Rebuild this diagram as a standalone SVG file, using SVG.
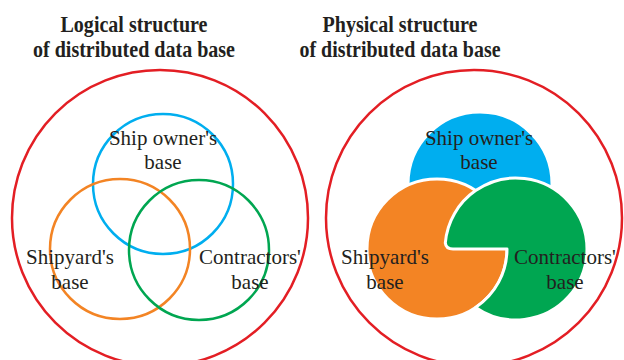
<svg xmlns="http://www.w3.org/2000/svg" width="624" height="360" viewBox="0 0 624 360">
<style>
.title{font-family:"Liberation Serif","Times New Roman",serif;font-weight:bold;font-size:24px;fill:#231f20;text-anchor:middle}
.lbl{font-family:"Liberation Serif","Times New Roman",serif;font-size:21px;fill:#231f20;text-anchor:middle}
.ring{fill:none;stroke-width:2.5}
.disc{stroke:#ffffff;stroke-width:3;stroke-linejoin:round}
</style>
<rect width="624" height="360" fill="#ffffff"/>
<g id="titles">
<text class="title" x="134" y="32" textLength="147" lengthAdjust="spacingAndGlyphs">Logical structure</text>
<text class="title" x="134" y="57" textLength="202" lengthAdjust="spacingAndGlyphs">of distributed data base</text>
<text class="title" x="400" y="32" textLength="155" lengthAdjust="spacingAndGlyphs">Physical structure</text>
<text class="title" x="400" y="57" textLength="201" lengthAdjust="spacingAndGlyphs">of distributed data base</text>
</g>
<g id="logical">
<circle id="logical-outer" class="ring" cx="160" cy="218" r="148" stroke="#e31e24"/>
<g id="logical-shipowner"><circle class="ring" cx="163" cy="184" r="70" stroke="#00aeef"/></g>
<g id="logical-shipyard"><circle class="ring" cx="120" cy="249" r="70" stroke="#f38424"/></g>
<g id="logical-contractors"><circle class="ring" cx="199" cy="250" r="70" stroke="#00a651"/></g>
<text class="lbl" x="163" y="145">Ship owner's</text>
<text class="lbl" x="163" y="169">base</text>
<text class="lbl" x="70" y="264">Shipyard's</text>
<text class="lbl" x="70" y="289">base</text>
<text class="lbl" x="250" y="264">Contractors'</text>
<text class="lbl" x="250" y="289">base</text>
</g>
<g id="physical">
<circle id="physical-outer" class="ring" cx="474" cy="218" r="148" stroke="#e31e24"/>
<g id="physical-shipowner"><circle class="disc" cx="480" cy="184" r="72" fill="#00aeef"/></g>
<g id="physical-shipyard"><circle class="disc" cx="437" cy="249" r="70" fill="#f38424"/></g>
<g id="physical-contractors"><path class="disc" fill="#00a651" d="M475.6 190.6 A71 71 0 1 1 475.6 307.4 A70 70 0 0 0 507 249 L453 249 Q446 249 445.3 243 A71 71 0 0 1 475.6 190.6 Z"/></g>
<text class="lbl" x="479" y="145">Ship owner's</text>
<text class="lbl" x="479" y="169">base</text>
<text class="lbl" x="385" y="264">Shipyard's</text>
<text class="lbl" x="385" y="289">base</text>
<text class="lbl" x="565" y="264">Contractors'</text>
<text class="lbl" x="565" y="289">base</text>
</g>
<g id="connectors"/>
</svg>
